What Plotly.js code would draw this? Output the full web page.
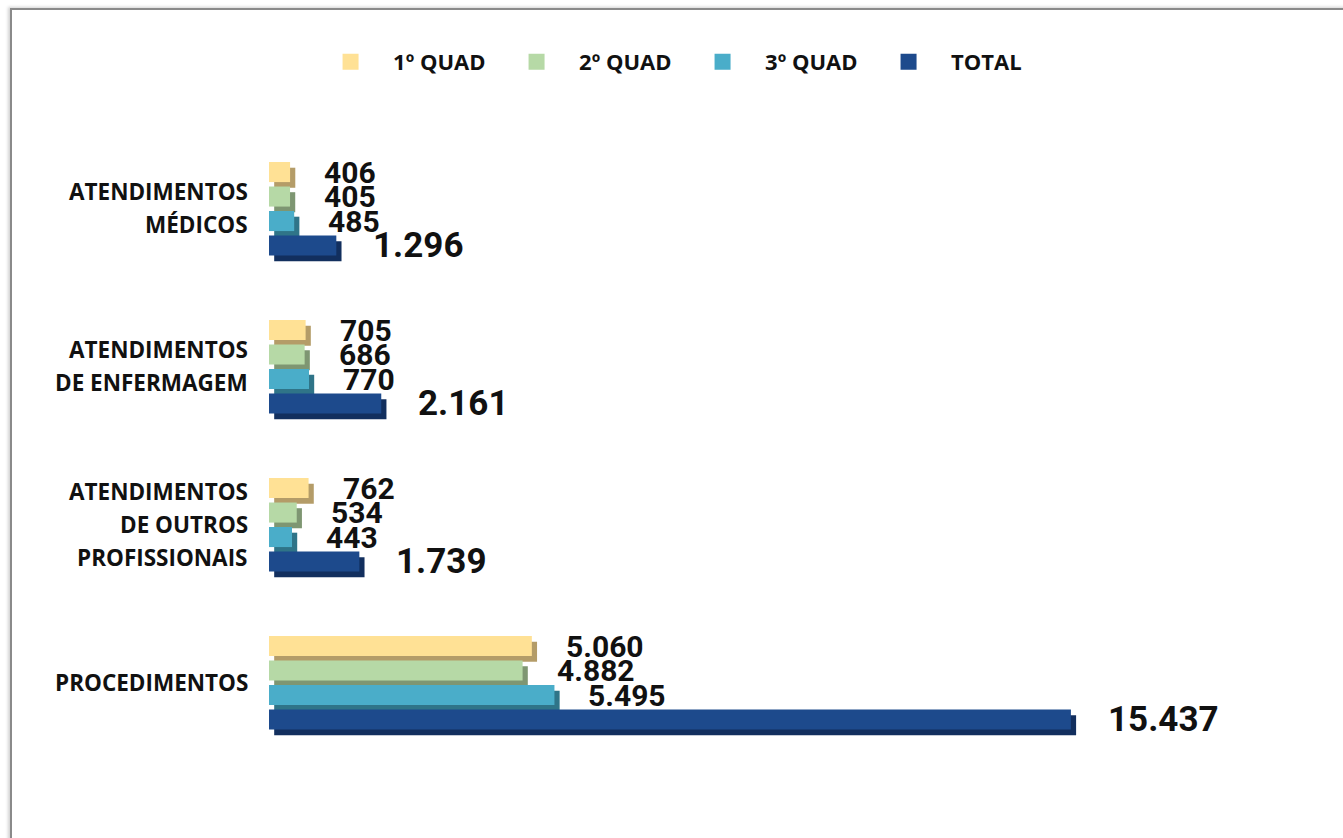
<!DOCTYPE html>
<html>
<head>
<meta charset="utf-8">
<script src="https://cdn.plot.ly/plotly-3.0.1.min.js"></script>
<style>
  html, body { margin: 0; padding: 0; background: #fff; }
  #wrap { position: relative; width: 1343px; height: 838px; overflow: hidden; background: #fff; }
  #chart { position: absolute; left: 0; top: 0; width: 1343px; height: 838px; }
  #frame { position: absolute; left: 10px; top: 8px; width: 1400px; height: 900px;
           border-left: 2px solid #8a8a8a; border-top: 2px solid #8a8a8a;
           box-shadow: -2px -1px 3px rgba(0,0,0,0.18); pointer-events: none; }
</style>
</head>
<body>
<div id="wrap">
  <div id="chart"></div>
  <div id="frame"></div>
</div>
<script>
// ---- data ----
const categories = ['ATENDIMENTOS MÉDICOS', 'ATENDIMENTOS DE ENFERMAGEM', 'ATENDIMENTOS DE OUTROS PROFISSIONAIS', 'PROCEDIMENTOS'];
const categoryLines = [
  ['ATENDIMENTOS', 'MÉDICOS'],
  ['ATENDIMENTOS', 'DE ENFERMAGEM'],
  ['ATENDIMENTOS', 'DE OUTROS', 'PROFISSIONAIS'],
  ['PROCEDIMENTOS']
];
const seriesNames = ['1º QUAD', '2º QUAD', '3º QUAD', 'TOTAL'];
const quad1 = [406, 705, 762, 5060];
const quad2 = [405, 686, 534, 4882];
const quad3 = [485, 770, 443, 5495];
const total = [1296, 2161, 1739, 15437];

// ---- style ----
const faceColors = ['#FFE195', '#B6D9A6', '#4AADC9', '#1D4A8C'];
const depthColors = ['#B49C68', '#7E9672', '#2F7488', '#122F5E'];
const seriesValues = [quad1, quad2, quad3, total];
const slot = 0.155, barW = 0.127, depthY = 0.036, depthX = 100;
const pxPerCat = 158;

function fmt(n) { return String(n).replace(/\B(?=(\d{3})+(?!\d))/g, '.'); }

const traces = [];
seriesValues.forEach((vals, i) => {
  const off = (i - 2) * slot;
  traces.push({
    type: 'bar', orientation: 'h', y: categories, x: vals,
    base: vals.map(() => depthX), offset: off + depthY, width: barW,
    marker: { color: depthColors[i], line: { width: 0 } },
    showlegend: false, hoverinfo: 'skip'
  });
  traces.push({
    type: 'bar', orientation: 'h', y: categories, x: vals,
    offset: off, width: barW, name: seriesNames[i],
    marker: { color: faceColors[i], line: { width: 0 } },
    showlegend: false
  });
});
// legend entries
seriesNames.forEach((n, i) => {
  traces.push({
    type: 'scatter', mode: 'markers', x: [null], y: [null], name: n,
    marker: { symbol: 'square', size: 16, color: faceColors[i] },
    showlegend: true
  });
});

const annotations = [];
seriesValues.forEach((vals, i) => {
  const off = (i - 2) * slot;
  const centerPx = (off + barW / 2) * pxPerCat;
  vals.forEach((v, k) => {
    annotations.push({
      x: v, y: categories[k], xref: 'x', yref: 'y',
      text: fmt(v), showarrow: false, xanchor: 'left', yanchor: 'middle',
      xshift: i === 3 ? 35 : 32, yshift: -centerPx,
      font: { family: 'Roboto, sans-serif', size: i === 3 ? 35 : 30, color: '#111', weight: 700 }
    });
  });
});
categoryLines.forEach((lines, k) => {
  lines.forEach((ln, j) => {
    annotations.push({
      x: 0, xref: 'paper', y: categories[k], yref: 'y',
      text: '<b>' + ln + '</b>', showarrow: false, xanchor: 'right', yanchor: 'middle',
      xshift: -19, yshift: -((j - (lines.length - 1) / 2) * 33) + 3,
      font: { family: '"Open Sans", sans-serif', size: 22.5, color: '#111' }
    });
  });
});

const layout = {
  width: 1343, height: 838,
  margin: { l: 269, r: 20, t: 132, b: 74 },
  paper_bgcolor: '#fff', plot_bgcolor: '#fff',
  barmode: 'overlay',
  xaxis: { range: [0, 20290], visible: false, fixedrange: true },
  yaxis: { type: 'category', categoryorder: 'array', categoryarray: categories,
           range: [3.5, -0.5], visible: false, fixedrange: true },
  showlegend: true,
  legend: { orientation: 'h', x: 0.39, xanchor: 'center', y: 1.111, yanchor: 'middle',
            itemsizing: 'trace', itemwidth: 75, entrywidth: 96,
            font: { family: '"Open Sans", sans-serif', size: 22, color: '#111', weight: 700 } },
  annotations: annotations
};

Plotly.newPlot('chart', traces, layout, { displayModeBar: false, staticPlot: true });
</script>
</body>
</html>
